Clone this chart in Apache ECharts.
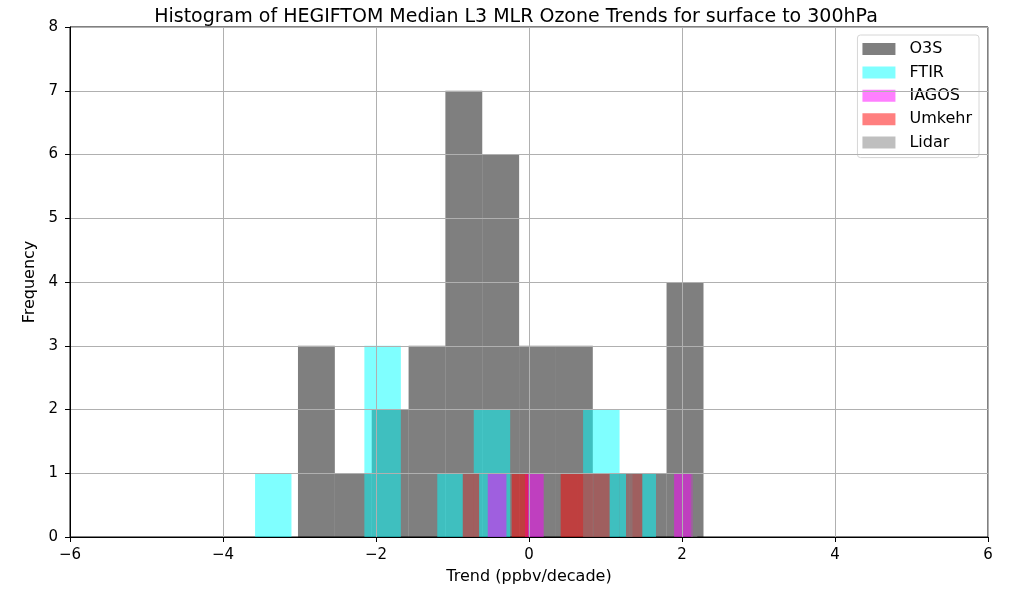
<!DOCTYPE html>
<html>
<head>
  <meta charset="utf-8" />
  <title>HEGIFTOM trend histogram</title>
  <script src="https://cdn.jsdelivr.net/npm/echarts@6/dist/echarts.min.js"></script>
  <style>
    html, body { margin: 0; padding: 0; background: #fff; }
  </style>
</head>
<body>
<div id="main" style="width:1013px;height:590px;"></div>
<script type="text/javascript">
  // bin edges (ppbv/decade) and counts, one histogram per network
  var o3sEdges = [-3.02, -2.538, -2.056, -1.574, -1.093, -0.611, -0.129, 0.352, 0.834, 1.316, 1.798, 2.281];
  var o3sCounts = [3, 1, 2, 3, 7, 6, 3, 3, 1, 1, 4];

  var ftirEdges = [-3.581, -3.105, -2.628, -2.152, -1.675, -1.199, -0.722, -0.246, 0.231, 0.707, 1.184, 1.66];
  var ftirCounts = [1, 0, 0, 3, 0, 1, 2, 0, 0, 2, 1];

  var iagosEdges = [-0.539, -0.295, -0.052, 0.192, 0.435, 0.679, 0.923, 1.166, 1.41, 1.653, 1.897, 2.141];
  var iagosCounts = [1, 0, 1, 0, 0, 0, 0, 0, 0, 0, 1];

  var umkehrEdges = [-0.866, -0.652, -0.439, -0.226, -0.012, 0.201, 0.414, 0.628, 0.841, 1.054, 1.268, 1.481];
  var umkehrCounts = [1, 0, 0, 1, 0, 0, 1, 1, 1, 0, 1];

  var lidarEdges = [1.268, 1.353, 1.437, 1.522, 1.607, 1.691, 1.776, 1.861, 1.946, 2.03, 2.115, 2.2];
  var lidarCounts = [1, 0, 0, 0, 0, 0, 0, 0, 0, 0, 1];

  var xTicks = [-6, -4, -2, 0, 2, 4, 6];
  var yTicks = [0, 1, 2, 3, 4, 5, 6, 7, 8];

  function toBins(edges, counts) {
    var out = [];
    for (var i = 0; i < counts.length; i++) {
      if (counts[i] > 0) out.push([edges[i], edges[i + 1], counts[i]]);
    }
    return out;
  }

  function histSeries(name, color, edges, counts) {
    return {
      name: name,
      type: 'custom',
      itemStyle: { color: color },
      encode: { x: [0, 1], y: 2 },
      data: toBins(edges, counts),
      renderItem: function (params, api) {
        var top = api.coord([api.value(0), api.value(2)]);
        var bot = api.coord([api.value(1), 0]);
        return {
          type: 'rect',
          shape: { x: top[0], y: top[1], width: bot[0] - top[0], height: bot[1] - top[1] },
          style: { fill: color }
        };
      }
    };
  }

  var minus = function (v) { return v < 0 ? '\u2212' + Math.abs(v) : String(v); };

  var myChart = echarts.init(document.getElementById('main'));
  var option = {
    animation: false,
    backgroundColor: '#fff',
    textStyle: { fontFamily: 'DejaVu Sans' },
    title: {
      text: 'Histogram of HEGIFTOM Median L3 MLR Ozone Trends for surface to 300hPa',
      left: 511,
      top: 3,
      textAlign: 'center',
      textStyle: { fontSize: 19, fontWeight: 'normal', color: '#000', fontFamily: 'DejaVu Sans' }
    },
    legend: {
      orient: 'vertical',
      right: 34,
      top: 35,
      padding: [5, 7, 6, 5],
      itemWidth: 33,
      itemHeight: 12,
      itemGap: 5.4,
      icon: 'rect',
      borderColor: '#d6d6d6',
      borderWidth: 1,
      borderRadius: 3,
      backgroundColor: 'rgba(255,255,255,0.8)',
      textStyle: { fontSize: 16, lineHeight: 18, color: '#000', padding: [0, 0, 0, 9] },
      data: ['O3S', 'FTIR', 'IAGOS', 'Umkehr', 'Lidar']
    },
    grid: {
      left: 70, right: 25, top: 27, bottom: 52,
      show: true, borderColor: '#000', borderWidth: 1
    },
    xAxis: {
      type: 'value',
      min: xTicks[0],
      max: xTicks[xTicks.length - 1],
      interval: 2,
      z: 5,
      name: 'Trend (ppbv/decade)',
      nameLocation: 'middle',
      nameGap: 32,
      nameTextStyle: { fontSize: 16, color: '#000' },
      axisLine: { show: true, onZero: false, lineStyle: { color: '#000', width: 1 } },
      axisTick: { show: true, length: 5, lineStyle: { color: '#000' } },
      axisLabel: { fontSize: 15, color: '#000', margin: 11, formatter: minus },
      splitLine: { show: true, lineStyle: { color: '#b0b0b0', width: 1 } }
    },
    yAxis: {
      type: 'value',
      min: yTicks[0],
      max: yTicks[yTicks.length - 1],
      interval: 1,
      z: 5,
      name: 'Frequency',
      nameLocation: 'middle',
      nameGap: 28,
      nameTextStyle: { fontSize: 16, color: '#000' },
      axisLine: { show: true, onZero: false, lineStyle: { color: '#000', width: 1 } },
      axisTick: { show: true, length: 5, lineStyle: { color: '#000' } },
      axisLabel: { fontSize: 15, color: '#000', margin: 12 },
      splitLine: { show: true, lineStyle: { color: '#b0b0b0', width: 1 } }
    },
    series: [
      histSeries('O3S', 'rgba(0,0,0,0.5)', o3sEdges, o3sCounts),
      histSeries('FTIR', 'rgba(0,255,255,0.5)', ftirEdges, ftirCounts),
      histSeries('IAGOS', 'rgba(255,0,255,0.5)', iagosEdges, iagosCounts),
      histSeries('Umkehr', 'rgba(255,0,0,0.5)', umkehrEdges, umkehrCounts),
      histSeries('Lidar', 'rgba(128,128,128,0.5)', lidarEdges, lidarCounts)
    ]
  };
  myChart.setOption(option);
</script>
</body>
</html>
